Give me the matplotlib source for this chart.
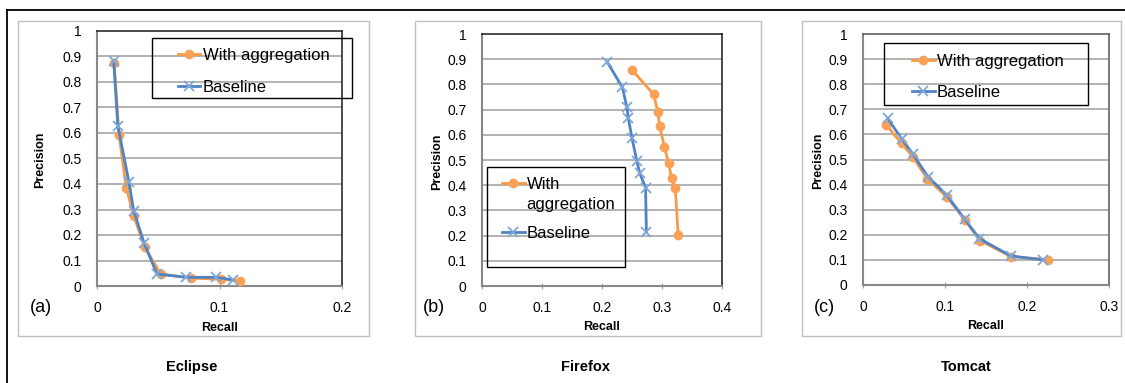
import matplotlib
matplotlib.use("Agg")
import matplotlib.pyplot as plt
from matplotlib.patches import Rectangle
from matplotlib.lines import Line2D

plt.rcParams['font.family'] = ['Liberation Sans', 'DejaVu Sans']

W, H = 1125, 383

# ---- data ----
eclipse_base_r = [0.0136, 0.017, 0.026, 0.030, 0.0385, 0.049, 0.073, 0.097, 0.111]
eclipse_base_p = [0.884, 0.629, 0.409, 0.295, 0.167, 0.047, 0.034, 0.034, 0.024]
eclipse_agg_r = [0.014, 0.018, 0.024, 0.030, 0.039, 0.052, 0.077, 0.101, 0.117]
eclipse_agg_p = [0.876, 0.592, 0.383, 0.275, 0.152, 0.047, 0.031, 0.026, 0.021]

firefox_base_r = [0.209, 0.234, 0.2415, 0.244, 0.250, 0.258, 0.263, 0.2726, 0.274]
firefox_base_p = [0.888, 0.788, 0.709, 0.665, 0.586, 0.497, 0.447, 0.390, 0.213]
firefox_agg_r = [0.250, 0.286, 0.293, 0.296, 0.304, 0.311, 0.316, 0.322, 0.327]
firefox_agg_p = [0.857, 0.761, 0.692, 0.635, 0.553, 0.487, 0.427, 0.390, 0.202]

tomcat_base_r = [0.030, 0.0476, 0.061, 0.079, 0.102, 0.124, 0.142, 0.180, 0.220]
tomcat_base_p = [0.664, 0.580, 0.521, 0.432, 0.359, 0.262, 0.185, 0.116, 0.100]
tomcat_agg_r = [0.0285, 0.047, 0.0606, 0.0786, 0.102, 0.124, 0.1425, 0.181, 0.226]
tomcat_agg_p = [0.637, 0.564, 0.511, 0.422, 0.352, 0.260, 0.177, 0.113, 0.101]

y_ticks = [0, 0.1, 0.2, 0.3, 0.4, 0.5, 0.6, 0.7, 0.8, 0.9, 1]
y_labels = ["0", "0.1", "0.2", "0.3", "0.4", "0.5", "0.6", "0.7", "0.8", "0.9", "1"]
eclipse_xticks = [0, 0.1, 0.2]
firefox_xticks = [0, 0.1, 0.2, 0.3, 0.4]
tomcat_xticks = [0, 0.1, 0.2, 0.3]

names = ["Eclipse", "Firefox", "Tomcat"]
letters = ["(a)", "(b)", "(c)"]
series_names = ["With aggregation", "Baseline"]

ORANGE = '#F79A45'
BLUE = '#4F83C3'
BLUE_MK = '#7FA8D8'


def fx(x):
    return x / W


def fy(y):
    return (H - y) / H


def fig_rect(x0, y0, x1, y1, **kw):
    r = Rectangle((fx(x0), fy(y1)), fx(x1) - fx(x0), fy(y0) - fy(y1),
                  transform=fig.transFigure, fill=False, **kw)
    fig.add_artist(r)


fig = plt.figure(figsize=(W / 100, H / 100), dpi=100)

# outer frame lines (top and left)
fig.add_artist(Line2D([fx(7), 1], [fy(10), fy(10)], color='black', lw=1.3,
                      transform=fig.transFigure))
fig.add_artist(Line2D([fx(7), fx(7)], [fy(10), 0], color='black', lw=1.3,
                      transform=fig.transFigure))

# chart boxes
fig_rect(18, 21, 369, 336, edgecolor='#c0c0c0', lw=1)
fig_rect(415, 21, 761, 336, edgecolor='#c0c0c0', lw=1)
fig_rect(802, 21, 1121, 336, edgecolor='#c0c0c0', lw=1)

panels = [
    dict(box=(97, 31, 342, 286), xlim=0.2, xt=eclipse_xticks,
         agg=(eclipse_agg_r, eclipse_agg_p), base=(eclipse_base_r, eclipse_base_p),
         ylab_x=-0.208, cap_x=192, let_x=41, frame='#1a1a1a'),
    dict(box=(482, 34, 722, 286), xlim=0.4, xt=firefox_xticks,
         agg=(firefox_agg_r, firefox_agg_p), base=(firefox_base_r, firefox_base_p),
         ylab_x=-0.16, cap_x=586, let_x=434, frame='#1a1a1a'),
    dict(box=(863, 34, 1109, 285), xlim=0.3, xt=tomcat_xticks,
         agg=(tomcat_agg_r, tomcat_agg_p), base=(tomcat_base_r, tomcat_base_p),
         ylab_x=-0.16, cap_x=966, let_x=824, frame='#555555'),
]

axes = []
for i, p in enumerate(panels):
    x0, y0, x1, y1 = p['box']
    ax = fig.add_axes([fx(x0), fy(y1), fx(x1) - fx(x0), fy(y0) - fy(y1)])
    axes.append(ax)
    ax.set_xlim(0, p['xlim'])
    ax.set_ylim(0, 1)
    ax.set_yticks(y_ticks)
    ax.set_yticklabels(y_labels)
    ax.set_xticks(p['xt'])
    ax.set_xticklabels([f"{t:g}" for t in p['xt']])
    ax.tick_params(axis='y', length=0, pad=11, labelsize=10)
    ax.tick_params(axis='x', length=4, direction='inout', color='#a0a0a0',
                   pad=9, labelsize=10)
    for yv in y_ticks[1:-1]:
        ax.axhline(yv, color='#a6a6a6', lw=1.2, zorder=0)
    for s in ['left', 'bottom']:
        ax.spines[s].set_color('#888888')
        ax.spines[s].set_linewidth(1.5)
    for s in ['top', 'right']:
        ax.spines[s].set_color(p['frame'])
        ax.spines[s].set_linewidth(1.1)

    ax.plot(*p['agg'], color=ORANGE, lw=2, marker='o', markersize=6,
            markerfacecolor='#F9A257', markeredgecolor='#F9A257',
            label=series_names[0], zorder=3)
    ax.plot(*p['base'], color=BLUE, lw=2, marker='x', markersize=7,
            markeredgecolor=BLUE_MK, markeredgewidth=1.3,
            label=series_names[1], zorder=4)

    ax.set_ylabel("Precision", fontsize=9, fontweight='bold')
    ax.yaxis.set_label_coords(p['ylab_x'], 0.494)
    ax.set_xlabel("Recall", fontsize=9, fontweight='bold')
    ax.xaxis.set_label_coords(0.5, -0.14)

    fig.text(fx(p['let_x']), fy(308), letters[i], fontsize=13,
             ha='center', va='center')
    fig.text(fx(p['cap_x']), fy(367), names[i], fontsize=10.5,
             fontweight='bold', ha='center', va='center')

# legends
leg_common = dict(frameon=False, fontsize=12, handlelength=1.35,
                  handletextpad=0.15, borderpad=0, borderaxespad=0,
                  loc='upper left', bbox_transform=fig.transFigure)

fig_rect(152, 38, 352, 98, edgecolor='black', lw=1)
axes[0].legend(bbox_to_anchor=(fx(178), fy(48)), labelspacing=1.04, **leg_common)

fig_rect(884, 43, 1088, 105, edgecolor='black', lw=1)
axes[2].legend(bbox_to_anchor=(fx(912), fy(54)), labelspacing=0.98, **leg_common)

fig_rect(487, 167, 625, 267, edgecolor='black', lw=1)
h, l = axes[1].get_legend_handles_labels()
axes[1].legend(h, ["With", "Baseline"], bbox_to_anchor=(fx(502), fy(177)),
               labelspacing=2.05, **leg_common)
fig.text(fx(526), fy(204), "aggregation", fontsize=12, ha='left', va='center')

fig.savefig("out.png", dpi=100)
